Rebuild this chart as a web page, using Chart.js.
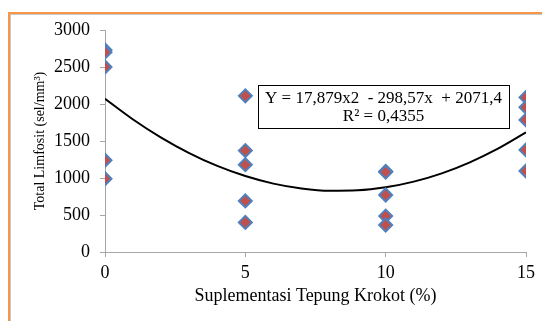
<!DOCTYPE html>
<html>
<head>
<meta charset="utf-8">
<script src="https://cdn.jsdelivr.net/npm/chart.js@4"></script>
<style>
html,body{margin:0;padding:0;background:#fff;}
#wrap{width:542px;height:321px;position:relative;}
</style>
</head>
<body>
<div id="wrap"><canvas id="c" width="542" height="321"></canvas></div>
<script>
// Observed data (Suplementasi Tepung Krokot % vs Total Limfosit)
const xLevels = [0, 5, 10, 15];
const limfosit0 = [2730, 2700, 2500, 1240, 990];
const limfosit5 = [2110, 1370, 1180, 690, 400];
const limfosit10 = [1090, 1080, 770, 485, 365];
const limfosit15 = [2090, 1955, 1785, 1380, 1095];
// Polynomial trendline values
const trendX = [0,1,2,3,4,5,6,7,8,9,10,11,12,13,14,15];
const trendY = [2071,1791,1546,1337,1163,1026,924,858,827,833,874,951,1063,1212,1396,1616];
const yTicks = [0,500,1000,1500,2000,2500,3000];
const xTicks = [0,5,10,15];
const equationText = ['Y = 17,879x2  - 298,57x  + 2071,4', 'R\u00B2 = 0,4355'];
const xTitle = 'Suplementasi Tepung Krokot (%)';
const yTitle = 'Total Limfosit (sel/mm\u00B3)';

const groups = [limfosit0, limfosit5, limfosit10, limfosit15];
const scatterPts = [];
groups.forEach((g, i) => g.forEach(v => scatterPts.push({x: xLevels[i], y: v})));
const trendPts = trendX.map((x, i) => ({x: x, y: trendY[i]}));

const SERIF = '"Liberation Serif", "Times New Roman", serif';

const decor = {
  id: 'decor',
  beforeDraw(chart) {
    const ctx = chart.ctx;
    ctx.save();
    ctx.fillStyle = '#ffffff';
    ctx.fillRect(0, 0, chart.width, chart.height);
    // orange frame (top & left) with faint shadow
    ctx.fillStyle = '#c8c8c8';
    ctx.fillRect(10, 14, chart.width, 1);
    ctx.fillRect(10, 14, 1, chart.height);
    ctx.fillStyle = '#f79646';
    ctx.fillRect(8, 12, chart.width, 2);
    ctx.fillRect(8, 12, 2, chart.height);
    ctx.restore();
  },
  afterDatasetsDraw(chart) {
    const ctx = chart.ctx;
    ctx.save();
    const bx = 258, by = 85, bw = 251, bh = 43;
    ctx.fillStyle = '#ffffff';
    ctx.fillRect(bx, by, bw, bh);
    ctx.strokeStyle = '#000000';
    ctx.lineWidth = 1;
    ctx.strokeRect(bx + 0.5, by + 0.5, bw, bh);
    ctx.fillStyle = '#000000';
    ctx.font = '17px ' + SERIF;
    ctx.textAlign = 'center';
    ctx.textBaseline = 'middle';
    ctx.fillText(equationText[0], bx + bw / 2, by + 14);
    ctx.fillText(equationText[1], bx + bw / 2, by + 32);
    ctx.restore();
  }
};

new Chart(document.getElementById('c'), {
  type: 'scatter',
  data: {
    datasets: [
      {
        type: 'line',
        data: trendPts,
        borderColor: '#000000',
        borderWidth: 2,
        pointRadius: 0,
        tension: 0.4,
        cubicInterpolationMode: 'monotone',
        fill: false,
        order: 2
      },
      {
        data: scatterPts,
        pointStyle: 'rectRot',
        pointRadius: 6.5,
        pointBackgroundColor: '#c0504d',
        pointBorderColor: '#4f81bd',
        pointBorderWidth: 2,
        order: 1
      }
    ]
  },
  options: {
    responsive: false,
    animation: false,
    devicePixelRatio: 1,
    layout: {padding: {top: 30, right: 16, bottom: 14, left: 32}},
    plugins: {legend: {display: false}, tooltip: {enabled: false}},
    scales: {
      x: {
        type: 'linear',
        min: 0, max: 15,
        afterBuildTicks(s) { s.ticks = xTicks.map(v => ({value: v})); },
        afterFit(s) { s.height = 55; },
        border: {display: true, color: '#a6a6a6', width: 1},
        grid: {display: true, drawOnChartArea: false, drawTicks: true, tickLength: 5, color: '#a6a6a6'},
        ticks: {color: '#000', font: {family: SERIF, size: 18}, padding: 5, maxRotation: 0, callback: v => String(v)},
        title: {display: true, text: xTitle, color: '#000', font: {family: SERIF, size: 18}, padding: {top: 0, bottom: 0}}
      },
      y: {
        type: 'linear',
        min: 0, max: 3000,
        afterBuildTicks(s) { s.ticks = yTicks.map(v => ({value: v})); },
        afterFit(s) { s.width = 73; },
        border: {display: true, color: '#a6a6a6', width: 1},
        grid: {display: true, drawOnChartArea: false, drawTicks: true, tickLength: 5, color: '#a6a6a6'},
        ticks: {color: '#000', font: {family: SERIF, size: 18}, padding: 10, callback: v => String(v)},
        title: {display: true, text: yTitle, color: '#000', font: {family: SERIF, size: 14}, padding: {top: 0, bottom: 0}}
      }
    }
  },
  plugins: [decor]
});
</script>
</body>
</html>
